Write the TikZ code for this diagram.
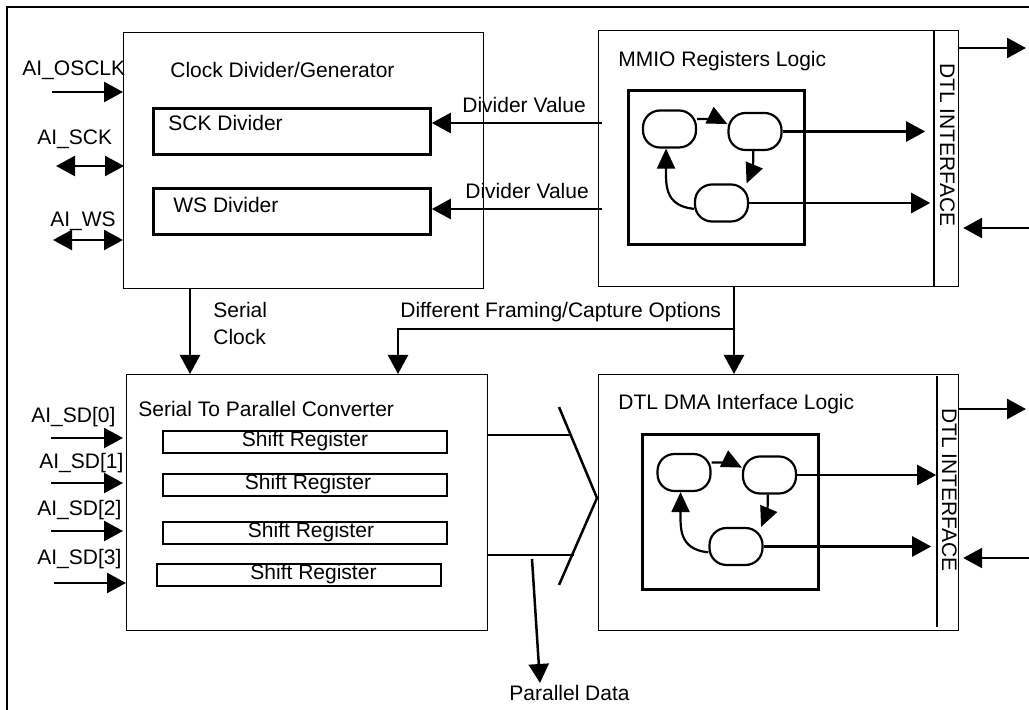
\documentclass[tikz,border=0pt]{standalone}
\usepackage{fontspec}
\setmainfont{Liberation Sans}
\usetikzlibrary{positioning,arrows.meta,calc}

\begin{document}
\begin{tikzpicture}[x=0.5pt, y=-0.5pt, font=\fontsize{10.5}{13.5}\selectfont,
  blk/.style={draw, line width=0.6pt, anchor=north west, inner sep=0pt,
    minimum width=180pt, minimum height=128pt},
  sub/.style={blk, line width=1.4pt, minimum width=138.5pt, minimum height=23pt},
  sreg/.style={blk, line width=1pt, minimum width=142pt, minimum height=11pt,
    text depth=3.4pt},
  fsm/.style={blk, line width=1.4pt, minimum width=88pt, minimum height=77pt},
  fstate/.style={draw, line width=1.1pt, rounded corners=8.5pt, inner sep=0pt,
    minimum width=26.5pt, minimum height=18.5pt},
  lbl/.style={anchor=base west, inner sep=0pt},
  dtl/.style={lbl, rotate=-90},
  arr/.style={-{Triangle[length=9.5pt, width=10pt]}, line width=1.25pt},
  darr/.style={{Triangle[length=9.5pt, width=10pt]}-{Triangle[length=9.5pt, width=10pt]},
    line width=1.25pt},
  farr/.style={-{Triangle[length=10pt, width=9pt]}, line width=1.1pt},
  bus/.style={line width=1.25pt}]

\useasboundingbox (0,0) rectangle (1029,710);
% outer frame (runs off the page right and bottom)
\draw[line width=0.6pt] (1029,7) -- (7,7) -- (7,710);

% ---- top row: clock divider, MMIO registers
\node[blk] (clk)  at (123,32) {};
\node[sub] (sckdiv) at (152,107) {};
\node[sub] (wsdiv)  at (152,187) {};
\node[lbl] (clkt) at (170,78)  {Clock Divider/Generator};
\node[lbl] (sckt) at (168,131) {SCK Divider};
\node[lbl] (wst)  at (173,213) {WS Divider};

\node[blk] (mmio) at (598,30) {};
\node[lbl] (mmiot) at (618,67) {MMIO Registers Logic};
\node[fsm] (mfsm) at (627,89) {};
\node[fstate] (ma) at (669.5,129) {};
\node[fstate] (mb) at (755,131.5) {};
\node[fstate] (mc) at (721.5,203) {};
\draw[line width=1pt] ($(mmio.north east)+(-25,0)$) -- ($(mmio.south east)+(-25,0)$);
\node[dtl] (mdtl) at (940,63) {DTL INTERFACE};

% ---- bottom row: serial to parallel, DMA
\node[blk, minimum width=180.5pt] (stp) at (126,374) {};
\node[lbl] (stpt) at (138,417) {Serial To Parallel Converter};
\node[sreg] (sr0) at (162,430) {Shift Register};
\node[sreg, minimum height=10.5pt] (sr1) at (162,473) {\hspace{3pt}Shift Register};
\node[sreg] (sr2) at (162,521) {\hspace{6pt}Shift Register};
\node[sreg] (sr3) at (156,563) {\hspace{14.5pt}Shift Register};

\node[blk] (dma) at (598,374) {};
\node[lbl] (dmat) at (618,410) {DTL DMA Interface Logic};
\node[fsm, minimum height=77.5pt] (dfsm) at (641,433) {};
\node[fstate] (da) at (684,472.5) {};
\node[fstate] (db) at (769.5,475) {};
\node[fstate] (dc) at (736,546.5) {};
\draw[line width=1pt] ($(dma.north east)+(-22,2)$) -- ($(dma.south east)+(-22,-4)$);
\node[dtl] (ddtl) at (942,408) {DTL INTERFACE};

% ---- pins on the left
\node[lbl] (osclkt) at (22,76)  {AI\_OSCLK};
\node[lbl] (sckpt)  at (37,145) {AI\_SCK};
\node[lbl] (wspt)   at (50,227) {AI\_WS};
\coordinate (osclk) at (52,92);
\coordinate (sckp)  at (56,166);
\coordinate (wsp)   at (53,240);
\draw[arr]  (osclk) -- (osclk -| clk.west);
\draw[darr] (sckp) -- ($(sckp -| clk.west)+(1,0)$);
\draw[darr] (wsp) -- (wsp -| clk.west);

\node[lbl] (sd0t) at (31,423) {AI\_SD[0]};
\node[lbl] (sd1t) at (39,469) {AI\_SD[1]};
\node[lbl] (sd2t) at (37,516) {AI\_SD[2]};
\node[lbl] (sd3t) at (37,565) {AI\_SD[3]};
\coordinate (sd0) at (51,438);
\coordinate (sd1) at (51,483);
\coordinate (sd2) at (51,531);
\coordinate (sd3) at (54,583);
\draw[arr] (sd0) -- ($(sd0 -| stp.west)+(-3,0)$);
\draw[arr] (sd1) -- ($(sd1 -| stp.west)+(-3,0)$);
\draw[arr] (sd2) -- ($(sd2 -| stp.west)+(-3,0)$);
\draw[arr] (sd3) -- (sd3 -| stp.west);

% ---- divider values
\node[lbl] (dv1t) at (462,113) {Divider Value};
\node[lbl] (dv2t) at (465,199) {Divider Value};
\coordinate (dv1) at (602,123);
\coordinate (dv2) at (602,209);
\draw[arr] (dv1) -- (dv1 -| sckdiv.east);
\draw[arr] (dv2) -- (dv2 -| wsdiv.east);

% ---- serial clock, framing options
\coordinate (sc) at (190,330);
\draw[arr] (sc |- clk.south) -- (sc |- stp.north);
\node[lbl] (sct1) at (213,318) {Serial};
\node[lbl] (sct2) at (213,345) {Clock};
\coordinate (fj) at (734,329);
\coordinate (fr) at (398,329);
\draw[arr] (fj |- mmio.south) -- (fj |- dma.north);
\draw[arr] (fj) -- (fr) -- (fr |- stp.north);
\node[lbl] (frt) at (400,318) {Different Framing/Capture Options};

% ---- state machines
\draw[farr] (ma.20) .. controls +(18,0) and +(-10,-5) .. (mb.165);
\draw[farr] (mb.-95) .. controls +(0,25) and +(5,-12) .. (mc.38);
\draw[farr] (mc.192) .. controls +(-30,-3) and +(0,35) .. (ma.-100);
\draw[arr] (mb.east) -- ($(mb.east -| mmio.east)+(-34,0)$);
\draw[arr] (mc.east) -- ($(mc.east -| mmio.east)+(-29,0)$);

\draw[farr] (da.20) .. controls +(18,0) and +(-10,-5) .. (db.165);
\draw[farr] (db.-95) .. controls +(0,25) and +(5,-12) .. (dc.38);
\draw[farr] (dc.192) .. controls +(-30,-3) and +(0,35) .. (da.-100);
\draw[arr] (db.east) -- ($(db.east -| dma.east)+(-23,0)$);
\draw[arr] (dc.east) -- ($(dc.east -| dma.east)+(-28,0)$);

% ---- DTL ports
\coordinate (mo) at (1026,48);
\coordinate (mi) at (1029,228);
\coordinate (do) at (1026,409);
\coordinate (di) at (1029,558);
\draw[arr] (mo -| mmio.east) -- (mo);
\draw[arr] (mi) -- ($(mi -| mmio.east)+(4,0)$);
\draw[arr] (do -| dma.east) -- (do);
\draw[arr] (di) -- ($(di -| dma.east)+(4,0)$);

% ---- parallel bus
\coordinate (pb1) at (572,435);
\coordinate (pb2) at (574,555);
\coordinate (pv) at (597,498);
\draw[bus] (pb1 -| stp.east) -- (pb1);
\draw[bus] (pb2 -| stp.east) -- (pb2);
\draw[bus] (559,407) -- (pv) -- (559,585);
\coordinate (pd) at (532,559);
\coordinate (pdend) at (540,683);
\draw[arr] (pd) -- (pdend);
\node[lbl] (pdt) at (509,701) {Parallel Data};
\end{tikzpicture}
\end{document}
